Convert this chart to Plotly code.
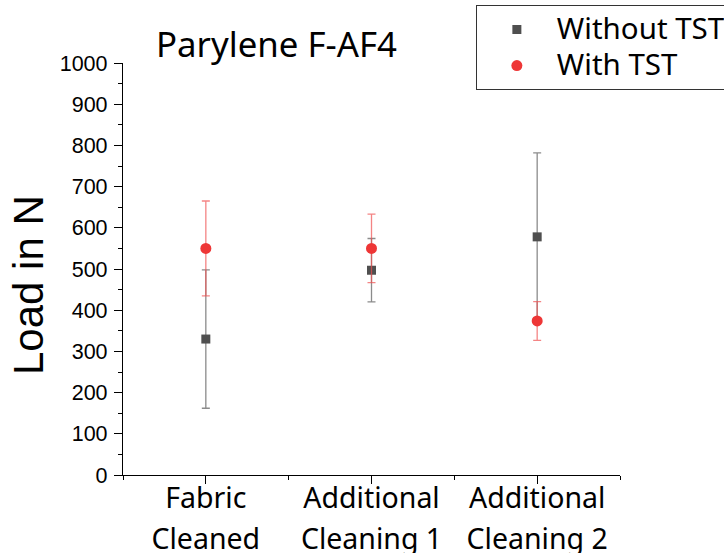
import plotly.graph_objects as go

# Load measurements for Parylene F-AF4 coated fabric
categories = ["Fabric Cleaned", "Additional Cleaning 1", "Additional Cleaning 2"]
series_names = ["Without TST", "With TST"]
without_tst = [330, 497, 578]
without_tst_err = [168, 77, 204]
with_tst = [550, 550, 374]
with_tst_err = [115, 83, 47]

x_idx = list(range(1, len(categories) + 1))
TICK_PX = 28.5
LEGEND_PX = 29.5


def two_line(label):
    first, second = label.split(" ", 1)
    span = f"<span style='font-size:{TICK_PX}px'>"
    return f"{span}{first}</span><br>{span}{second}</span>"


def legend_label(label):
    return f"<span style='font-size:{LEGEND_PX}px'>{label}</span>"


fig = go.Figure()
fig.add_trace(go.Scatter(
    x=x_idx, y=without_tst, mode="markers", name=legend_label(series_names[0]),
    marker=dict(symbol="square", size=9, color="#4f4f4f"),
    error_y=dict(type="data", array=without_tst_err, visible=True,
                 color="rgba(110,110,110,0.8)", thickness=1.3, width=4),
))
fig.add_trace(go.Scatter(
    x=x_idx, y=with_tst, mode="markers", name=legend_label(series_names[1]),
    marker=dict(symbol="circle", size=11, color="#ee3636"),
    error_y=dict(type="data", array=with_tst_err, visible=True,
                 color="rgba(240,80,80,0.7)", thickness=1.3, width=4),
))

fig.update_layout(
    width=724, height=553,
    margin=dict(l=123, r=104, t=63, b=78, autoexpand=False),
    paper_bgcolor="white", plot_bgcolor="white",
    showlegend=True,
    legend=dict(
        x=0.71, y=1.14, xanchor="left", yanchor="top",
        bordercolor="#333333", borderwidth=1, bgcolor="white",
        font=dict(family="Noto Sans", size=25.5, color="black"),
        itemwidth=70,
    ),
    annotations=[
        dict(text="Parylene F-AF4", xref="paper", yref="paper",
             x=0.062, y=0.985, xanchor="left", yanchor="bottom", showarrow=False,
             font=dict(family="Noto Sans", size=34.8, color="black")),
        dict(text="Load in N", xref="paper", yref="paper",
             x=-0.19, y=0.46, xanchor="center", yanchor="middle", showarrow=False,
             textangle=-90,
             font=dict(family="Liberation Sans", size=42, color="black")),
    ],
)

fig.update_xaxes(
    range=[0.5, 3.5], tickmode="array", tickvals=x_idx,
    ticktext=[two_line(c) for c in categories],
    tickfont=dict(family="Noto Sans", size=31.5, color="black"),
    ticks="outside", ticklen=8, tickwidth=1.3, tickcolor="black",
    ticklabelstandoff=-14,
    showline=True, linecolor="black", linewidth=1.3,
    showgrid=False, zeroline=False, automargin=False,
    minor=dict(tickmode="linear", tick0=0.5, dtick=1, ticks="outside",
               ticklen=4, tickwidth=1.3, tickcolor="black"),
)
fig.update_yaxes(
    range=[0, 1000], dtick=100, tick0=0,
    tickfont=dict(family="Liberation Sans", size=21.5, color="black"),
    ticks="outside", ticklen=8, tickwidth=1.3, tickcolor="black",
    ticklabelstandoff=2,
    showline=True, linecolor="black", linewidth=1.3,
    showgrid=False, zeroline=False, automargin=False,
    minor=dict(dtick=50, ticks="outside", ticklen=4, tickwidth=1.3,
               tickcolor="black"),
)

fig.write_html("out.html")
